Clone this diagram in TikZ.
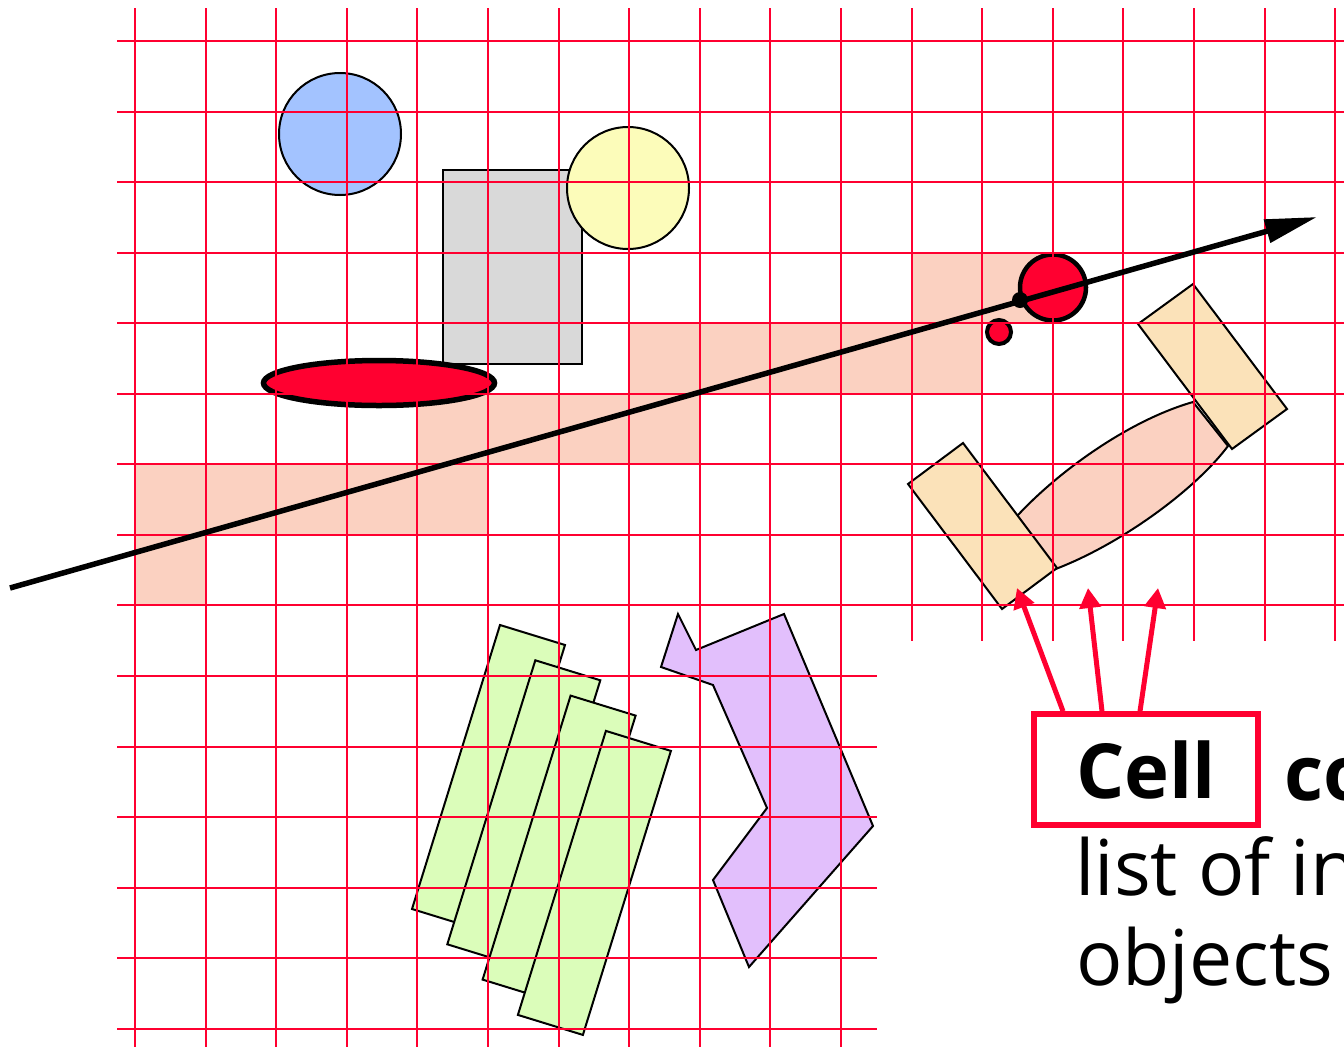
\documentclass[tikz,border=0pt]{standalone}
\usepackage{fontspec}
\setmainfont{Open Sans}
\usetikzlibrary{arrows.meta}
\definecolor{hitred}{HTML}{FF0030}
\definecolor{cellshade}{HTML}{FBD1C1}
\definecolor{blueobj}{HTML}{A3C3FF}
\definecolor{yellowobj}{HTML}{FCFCBA}
\definecolor{grayobj}{HTML}{D9D9D9}
\definecolor{tanobj}{HTML}{FBE2B9}
\definecolor{greenobj}{HTML}{DBFDBA}
\definecolor{purpleobj}{HTML}{E2BFFC}
\tikzset{
  obj/.style={draw=black, line width=2pt, line join=miter},
  gridline/.style={draw=hitred, line width=2pt},
  shadecell/.style={fill=cellshade},
  raystyle/.style={draw=black, line width=5.5pt, -{Triangle[length=52pt,width=23pt]}},
  redarrow/.style={draw=hitred, line width=5pt, -{Triangle[length=20pt,width=21pt]}},
  cellbox/.style={draw=hitred, line width=6pt, minimum width=224pt, minimum height=110.5pt, inner sep=0pt,
    font=\bfseries\fontsize{76}{90}\selectfont},
  boldtext/.style={anchor=base west, inner sep=0pt, font=\bfseries\fontsize{76}{90}\selectfont},
  plaintext/.style={anchor=base west, inner sep=0pt, font=\fontsize{77}{90}\selectfont},
}
\begin{document}
\begin{tikzpicture}[x=1pt,y=-1pt]
\useasboundingbox (0,0) rectangle (1344,1047);
\clip (0,0) rectangle (1344,1047);
% shaded cells traversed by the ray
\foreach \c/\r in {0/6,1/6,2/6,3/6,4/6,0/7,4/5,5/5,6/5,7/5,7/4,8/4,9/4,10/4,11/4,11/3,12/3}
  \fill[shadecell] ({135+70.6*\c},{41+70.55*\r}) rectangle ++(70.6,70.55);
% objects
\draw[obj, fill=blueobj] (340,134) circle[radius=61];
\draw[obj, fill=grayobj] (443,170) rectangle (582,364);
\draw[obj, fill=yellowobj] (628,188) circle[radius=61];
\draw[line width=5.5pt, fill=hitred] (379,383) ellipse[x radius=115.5, y radius=22.5];
% lens between the tan rectangles
\draw[obj, fill=cellshade] (1010,522) -- (1018,515) .. controls (1060,470) and (1130,420) .. (1193,402)
  -- (1228,446) .. controls (1195,490) and (1120,545) .. (1053,570) -- cycle;
\draw[obj, fill=tanobj] (908,484) -- (963,443) -- (1057,568) -- (1002,609) -- cycle;
\draw[obj, fill=tanobj] (1138,324) -- (1193,284) -- (1287,409) -- (1232,449) -- cycle;
% green rectangles
\foreach \k in {0,...,3}
  \draw[obj, fill=greenobj] ({500+35.3*\k},{625+35.3*\k}) -- ++(65,20) -- ++(-88,284) -- ++(-65,-20) -- cycle;
% purple polygon
\draw[obj, fill=purpleobj] (678,614) -- (696,650) -- (784,614) -- (873,826) -- (749,967)
  -- (713,880) -- (767,808) -- (713,685) -- (661,667) -- cycle;
% red hit objects
\draw[line width=4.5pt, fill=hitred] (1053,287.5) circle[radius=33];
\draw[line width=4pt, fill=hitred] (999,332) circle[radius=12];
% grid
\foreach \i in {0,...,10} \draw[gridline] ({135+70.6*\i},8) -- ({135+70.6*\i},1047);
\foreach \i in {11,...,17} \draw[gridline] ({135+70.6*\i},8) -- ({135+70.6*\i},641);
\foreach \j in {0,...,8} \draw[gridline] (117,{41+70.55*\j}) -- (1344,{41+70.55*\j});
\foreach \j in {9,...,14} \draw[gridline] (117,{41+70.55*\j}) -- (877,{41+70.55*\j});
% ray
\coordinate (raystart) at (10,588);
\coordinate (rayend) at (1317,217);
\draw[raystyle] (raystart) -- (rayend);
\node[circle, fill=black, minimum size=16pt, inner sep=0pt] (hit) at (1020,300) {};
% label
\node[cellbox] (cell) at (1146,769.5) {Cell};
\node[boldtext] (co) at (1284,800) {co};
\node[plaintext] (line2) at (1075,895) {list of in};
\node[plaintext] (line3) at (1076,985) {objects};
\coordinate (tip1) at (1017,588);
\coordinate (tip2) at (1088,588);
\coordinate (tip3) at (1158,588);
\draw[redarrow] ([xshift=32pt]cell.north west) -- (tip1);
\draw[redarrow] ([xshift=71pt]cell.north west) -- (tip2);
\draw[redarrow] ([xshift=109pt]cell.north west) -- (tip3);
\end{tikzpicture}
\end{document}
